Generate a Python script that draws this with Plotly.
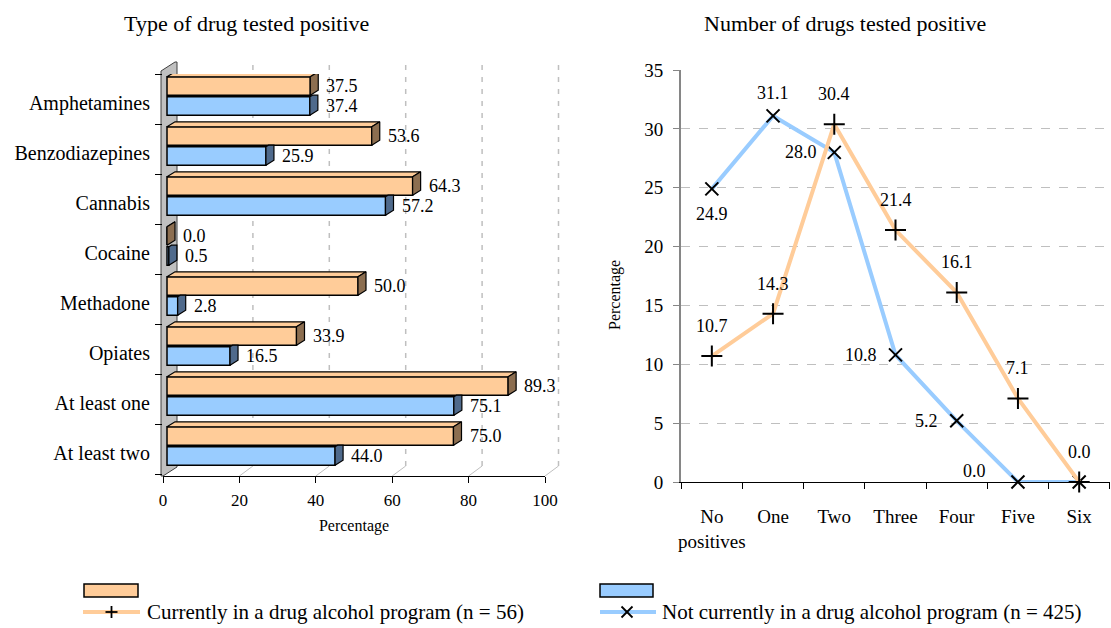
import plotly.graph_objects as go

W, H = 1111, 628

# ---- data: type of drug tested positive (%)
drugs = ["Amphetamines", "Benzodiazepines", "Cannabis", "Cocaine",
         "Methadone", "Opiates", "At least one", "At least two"]
in_program = [37.5, 53.6, 64.3, 0.0, 50.0, 33.9, 89.3, 75.0]
not_in_program = [37.4, 25.9, 57.2, 0.5, 2.8, 16.5, 75.1, 44.0]

# ---- data: number of drugs tested positive (%)
counts = ["No<br>positives", "One", "Two", "Three", "Four", "Five", "Six"]
count_in_program = [10.7, 14.3, 30.4, 21.4, 16.1, 7.1, 0.0]
count_not_in_program = [24.9, 31.1, 28.0, 10.8, 5.2, 0.0, 0.0]

name_in = "Currently in a drug alcohol program (n = 56)"
name_not = "Not currently in a drug alcohol program (n = 425)"

ORANGE, ORANGE_SIDE = "#FFCC99", "#8C6E50"
BLUE, BLUE_SIDE = "#99CCFF", "#4F6A8C"
WALL = "#C0C0C0"
GRID = "#BFBFBF"
FONT = "Liberation Serif"


def fx(p):
    return p / W


def fy(p):
    return 1 - p / H


# ---- left panel geometry (pixels)
X0, X1 = 163, 545            # front axis: 0 .. 100
SCALE = (X1 - X0) / 100.0    # px per percentage point
BAR_SHIFT = 4                # bars sit slightly behind the front axis
BACK_SHIFT = 13.5            # back wall gridlines
Y_TOP, Y_BOT = 74, 476
PITCH = 50
GROUP_C0 = 96                # pixel centre of first bar group
yr_top = (Y_TOP - GROUP_C0) / PITCH
yr_bot = (Y_BOT - GROUP_C0) / PITCH

DX = 8 / SCALE               # depth of 3D faces (data units)
DY = 5 / PITCH               # depth of 3D faces (category units)
HALF = 0.184                 # half bar thickness (category units)
GAP = 0.016

fig = go.Figure()

idx = list(range(len(drugs)))

fig.add_trace(go.Bar(
    orientation="h", y=idx, x=in_program, width=2 * HALF, offset=-(2 * HALF + GAP),
    marker=dict(color=ORANGE, line=dict(color="black", width=1.5)),
    xaxis="x3", yaxis="y", name=name_in, showlegend=False, hoverinfo="skip"))
fig.add_trace(go.Bar(
    orientation="h", y=idx, x=not_in_program, width=2 * HALF, offset=GAP,
    marker=dict(color=BLUE, line=dict(color="black", width=1.5)),
    xaxis="x3", yaxis="y", name=name_not, showlegend=False, hoverinfo="skip"))


def face(xs, ys, color):
    fig.add_trace(go.Scatter(
        x=xs, y=ys, mode="lines", fill="toself", fillcolor=color,
        line=dict(color="black", width=1.2), xaxis="x3", yaxis="y",
        showlegend=False, hoverinfo="skip"))


for i, (vo, vb) in enumerate(zip(in_program, not_in_program)):
    co = i - HALF - GAP
    cb = i + HALF + GAP
    # blue side face, trimmed where it passes behind the orange bar
    top_b = cb - HALF
    cut = co + HALF
    f = (top_b - cut) / DY
    face([vb, vb, vb + DX * f, vb + DX, vb + DX, vb],
         [cb + HALF, top_b, cut, cut, cb + HALF - DY, cb + HALF], BLUE_SIDE)
    # orange top and side faces
    face([0, vo, vo + DX, DX, 0],
         [co - HALF, co - HALF, co - HALF - DY, co - HALF - DY, co - HALF], ORANGE)
    face([vo, vo, vo + DX, vo + DX, vo],
         [co + HALF, co - HALF, co - HALF - DY, co + HALF - DY, co + HALF], ORANGE_SIDE)

# placeholders so the front axis and tick axis get drawn
fig.add_trace(go.Scatter(x=[None], y=[None], xaxis="x", yaxis="y", showlegend=False))
fig.add_trace(go.Scatter(x=[None], y=[None], xaxis="x", yaxis="y3", showlegend=False))

# ---- right panel lines
fig.add_trace(go.Scatter(
    x=counts, y=count_not_in_program, mode="lines+markers", name=name_not,
    line=dict(color=BLUE, width=4), cliponaxis=False,
    marker=dict(symbol="x-thin-open", size=13, color="black",
                line=dict(color="black", width=2)),
    xaxis="x2", yaxis="y2", showlegend=False, hoverinfo="skip"))
fig.add_trace(go.Scatter(
    x=counts, y=count_in_program, mode="lines+markers", name=name_in,
    line=dict(color=ORANGE, width=4), cliponaxis=False,
    marker=dict(symbol="cross-thin-open", size=15, color="black",
                line=dict(color="black", width=2)),
    xaxis="x2", yaxis="y2", showlegend=False, hoverinfo="skip"))

annotations = []

# left panel value labels
for i, (vo, vb) in enumerate(zip(in_program, not_in_program)):
    for v, c in ((vo, i - HALF - GAP), (vb, i + HALF + GAP)):
        annotations.append(dict(
            x=v + DX, y=c, xref="x3", yref="y", text=f"{v:.1f}",
            showarrow=False, xanchor="left", yanchor="middle", xshift=6,
            font=dict(size=18)))

# right panel value labels
for i, v in enumerate(count_in_program):
    annotations.append(dict(
        x=i, y=v, xref="x2", yref="y2", text=f"{v:.1f}", showarrow=False,
        xanchor="center", yanchor="middle", yshift=30, font=dict(size=18)))

blue_label_pos = [
    dict(xanchor="center", yshift=-25),
    dict(xanchor="center", yshift=23),
    dict(xanchor="right", xshift=-15),
    dict(xanchor="right", xshift=-17),
    dict(xanchor="right", xshift=-17),
    dict(xanchor="right", xshift=-30, yshift=11),
]
for i, pos in enumerate(blue_label_pos):
    v = count_not_in_program[i]
    annotations.append(dict(
        x=i, y=v, xref="x2", yref="y2", text=f"{v:.1f}", showarrow=False,
        yanchor="middle", font=dict(size=18), **pos))

# titles
annotations += [
    dict(x=fx(246), y=fy(24), xref="paper", yref="paper", showarrow=False,
         xanchor="center", yanchor="middle",
         text="Type of drug tested positive", font=dict(size=22)),
    dict(x=fx(845), y=fy(24), xref="paper", yref="paper", showarrow=False,
         xanchor="center", yanchor="middle",
         text="Number of drugs tested positive", font=dict(size=22)),
    dict(x=fx(615), y=fy(295), xref="paper", yref="paper", showarrow=False,
         xanchor="center", yanchor="middle", textangle=-90,
         text="Percentage", font=dict(size=16)),
]

# legend text
annotations += [
    dict(x=fx(145), y=fy(612), xref="paper", yref="paper", showarrow=False,
         xanchor="left", yanchor="middle", text=name_in, font=dict(size=21)),
    dict(x=fx(660), y=fy(612), xref="paper", yref="paper", showarrow=False,
         xanchor="left", yanchor="middle", text=name_not, font=dict(size=21)),
]

shapes = []

# back wall of the 3D bar panel
shapes.append(dict(
    type="path", xref="paper", yref="paper", layer="below",
    path=(f"M {fx(161)},{fy(476)} L {fx(161)},{fy(71)} L {fx(175)},{fy(62)} "
          f"L {fx(177)},{fy(62)} L {fx(177)},{fy(467)} L {fx(163)},{fy(476)} Z"),
    fillcolor=WALL, line=dict(color="#404040", width=1)))

# back gridlines with floor lines
for t in range(20, 101, 20):
    xf = X0 + t * SCALE
    xb = X0 + BACK_SHIFT + t * SCALE
    shapes.append(dict(type="line", xref="paper", yref="paper", layer="below",
                       x0=fx(xf), y0=fy(476), x1=fx(xb), y1=fy(466),
                       line=dict(color=GRID, width=1)))
    shapes.append(dict(type="line", xref="paper", yref="paper", layer="below",
                       x0=fx(xb), y0=fy(466), x1=fx(xb), y1=fy(64),
                       line=dict(color=GRID, width=1.5, dash="5px,7px")))

# legend swatches
shapes += [
    dict(type="rect", xref="paper", yref="paper", x0=fx(84), x1=fx(138),
         y0=fy(597), y1=fy(584), fillcolor=ORANGE, line=dict(color="black", width=1.5)),
    dict(type="rect", xref="paper", yref="paper", x0=fx(600), x1=fx(653),
         y0=fy(597), y1=fy(584), fillcolor=BLUE, line=dict(color="black", width=1.5)),
    dict(type="line", xref="paper", yref="paper", x0=fx(83), x1=fx(140),
         y0=fy(612), y1=fy(612), line=dict(color=ORANGE, width=4)),
    dict(type="line", xref="paper", yref="paper", x0=fx(600), x1=fx(656),
         y0=fy(612), y1=fy(612), line=dict(color=BLUE, width=4)),
    dict(type="line", xref="paper", yref="paper", x0=fx(105.5), x1=fx(117.5),
         y0=fy(612), y1=fy(612), line=dict(color="black", width=1.8)),
    dict(type="line", xref="paper", yref="paper", x0=fx(111.5), x1=fx(111.5),
         y0=fy(606), y1=fy(618), line=dict(color="black", width=1.8)),
    dict(type="line", xref="paper", yref="paper", x0=fx(621.5), x1=fx(632.5),
         y0=fy(606.5), y1=fy(617.5), line=dict(color="black", width=1.8)),
    dict(type="line", xref="paper", yref="paper", x0=fx(621.5), x1=fx(632.5),
         y0=fy(617.5), y1=fy(606.5), line=dict(color="black", width=1.8)),
]

fig.update_layout(
    width=W, height=H, margin=dict(l=0, r=0, t=0, b=0, autoexpand=False),
    paper_bgcolor="white", plot_bgcolor="rgba(0,0,0,0)",
    font=dict(family=FONT, color="black", size=18),
    showlegend=False,
    annotations=annotations, shapes=shapes,
    xaxis=dict(
        domain=[fx(X0), fx(X1)], range=[0, 100], anchor="y", automargin=False,
        tickvals=[0, 20, 40, 60, 80, 100], ticks="outside", ticklen=6,
        tickcolor="black", showline=True, linecolor="black", linewidth=1,
        showgrid=False, zeroline=False, tickfont=dict(size=17), tickangle=0,
        ticklabelstandoff=3,
        title=dict(text="Percentage", font=dict(size=16), standoff=10)),
    xaxis3=dict(
        overlaying="x", anchor="y", automargin=False,
        range=[-BAR_SHIFT / SCALE, 100 - BAR_SHIFT / SCALE], visible=False),
    yaxis=dict(
        domain=[fy(Y_BOT), fy(Y_TOP)], range=[yr_bot, yr_top], anchor="x",
        automargin=False,
        tickvals=[i + 0.14 for i in idx], ticktext=drugs, ticks="",
        showline=False, showgrid=False, zeroline=False,
        tickfont=dict(size=20), ticklabelstandoff=12),
    yaxis3=dict(
        overlaying="y", anchor="x", side="left", range=[yr_bot, yr_top],
        automargin=False,
        tickvals=[yr_top + k for k in range(len(drugs) + 1)], ticks="outside",
        ticklen=7, tickcolor="black", showticklabels=False,
        showline=False, showgrid=False, zeroline=False),
    xaxis2=dict(
        domain=[fx(681), fx(1110)], anchor="y2", type="category", automargin=False,
        tickson="boundaries", ticks="outside", ticklen=6, tickcolor="black",
        showline=True, linecolor="black", linewidth=1, showgrid=False,
        tickfont=dict(size=19), tickangle=0, ticklabelstandoff=17),
    yaxis2=dict(
        domain=[fy(482), fy(70)], range=[0, 35], dtick=5, anchor="x2",
        automargin=False,
        ticks="outside", ticklen=6, tickcolor="#868686",
        showline=True, linecolor="#868686", linewidth=2,
        showgrid=True, gridcolor=GRID, griddash="dash", gridwidth=1,
        zeroline=False, tickfont=dict(size=19), ticklabelstandoff=6),
)

fig.write_html("out.html")
